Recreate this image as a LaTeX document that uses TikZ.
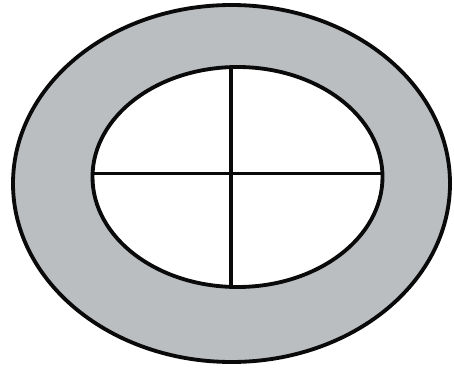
\documentclass[tikz,border=0pt]{standalone}
\usepackage{tikz}
\definecolor{ringc}{HTML}{BBBEC1}
\definecolor{linec}{HTML}{0A0A0A}
\tikzset{
  rim/.style={draw=linec,line width=1.15mm},
  hair/.style={draw=linec,line width=1.15mm},
}
\begin{document}
\begin{tikzpicture}[x=0.03cm,y=-0.03cm]
  \useasboundingbox (0,0) rectangle (454,367);
  % outer ring and hole
  \filldraw[rim,fill=ringc] (231.5,183.5) ellipse [x radius=218.5, y radius=178.5];
  \filldraw[rim,fill=white] (237.5,177) ellipse [x radius=145, y radius=110];
  % cross
  \coordinate (top) at (231,67);
  \coordinate (bot) at (231,287);
  \coordinate (lft) at (92.5,173.5);
  \coordinate (rgt) at (383,173.5);
  \draw[hair] (top) -- (bot);
  \draw[hair] (lft) -- (rgt);
\end{tikzpicture}
\end{document}
